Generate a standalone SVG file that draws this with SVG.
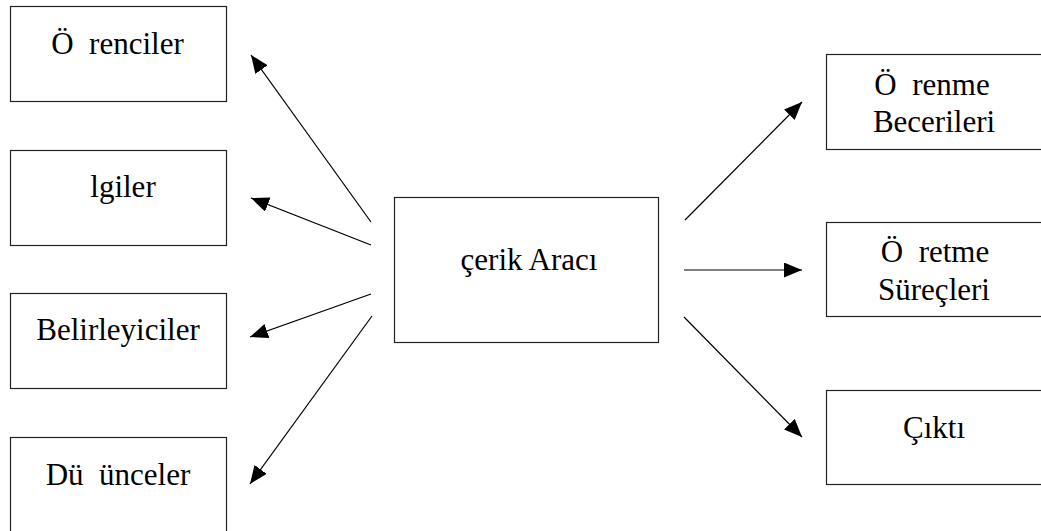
<svg xmlns="http://www.w3.org/2000/svg" width="1041" height="531" viewBox="0 0 1041 531">
  <style>
    .box { fill: #ffffff; stroke: #222222; stroke-width: 1.2; }
    .edge { stroke: #000000; stroke-width: 1.2; fill: none; marker-end: url(#head); }
  </style>
  <defs>
    <marker id="head" markerUnits="userSpaceOnUse" markerWidth="20" markerHeight="16" refX="18" refY="7.5" orient="auto">
      <path d="M0,0 L18,7.5 L0,15 z" fill="#000000"/>
    </marker>
  </defs>
  <rect width="1041" height="531" fill="#ffffff"/>

  <!-- left column -->
  <g id="ogrenciler">
    <rect class="box" x="10.5" y="6.5" width="216" height="95"/>
    <text x="117.5" y="54" text-anchor="middle" style="font-family: 'Liberation Serif', 'Times New Roman', serif !important; font-size: 31px; white-space: pre;">Ö  renciler</text>
  </g>
  <g id="ilgiler">
    <rect class="box" x="10.5" y="150.5" width="216" height="95"/>
    <text x="123" y="197" text-anchor="middle" style="font-family: 'Liberation Serif', 'Times New Roman', serif !important; font-size: 31px;">lgiler</text>
  </g>
  <g id="belirleyiciler">
    <rect class="box" x="10.5" y="293.5" width="216" height="95"/>
    <text x="118" y="340" text-anchor="middle" style="font-family: 'Liberation Serif', 'Times New Roman', serif !important; font-size: 31px;">Belirleyiciler</text>
  </g>
  <g id="dusunceler">
    <rect class="box" x="10.5" y="437.5" width="216" height="95"/>
    <text x="118" y="485" text-anchor="middle" style="font-family: 'Liberation Serif', 'Times New Roman', serif !important; font-size: 31px; white-space: pre;">Dü  ünceler</text>
  </g>

  <!-- centre -->
  <g id="icerik-araci">
    <rect class="box" x="394.5" y="197.5" width="264" height="145"/>
    <text x="529" y="270" text-anchor="middle" style="font-family: 'Liberation Serif', 'Times New Roman', serif !important; font-size: 31px;">çerik Aracı</text>
  </g>

  <!-- right column -->
  <g id="ogrenme-becerileri">
    <rect class="box" x="826.5" y="54.5" width="220" height="95"/>
    <text x="932" y="95" text-anchor="middle" style="font-family: 'Liberation Serif', 'Times New Roman', serif !important; font-size: 31px; white-space: pre;">Ö  renme</text>
    <text x="934" y="132" text-anchor="middle" style="font-family: 'Liberation Serif', 'Times New Roman', serif !important; font-size: 31px;">Becerileri</text>
  </g>
  <g id="ogretme-surecleri">
    <rect class="box" x="826.5" y="222.5" width="220" height="94"/>
    <text x="935" y="262" text-anchor="middle" style="font-family: 'Liberation Serif', 'Times New Roman', serif !important; font-size: 31px; white-space: pre;">Ö  retme</text>
    <text x="934" y="300" text-anchor="middle" style="font-family: 'Liberation Serif', 'Times New Roman', serif !important; font-size: 31px;">Süreçleri</text>
  </g>
  <g id="cikti">
    <rect class="box" x="826.5" y="390.5" width="220" height="94"/>
    <text x="934" y="438" text-anchor="middle" style="font-family: 'Liberation Serif', 'Times New Roman', serif !important; font-size: 31px;">Çıktı</text>
  </g>

  <!-- connectors -->
  <g id="connectors">
    <line class="edge" x1="371" y1="222" x2="251" y2="55"/>
    <line class="edge" x1="371" y1="245" x2="251" y2="198"/>
    <line class="edge" x1="371" y1="294" x2="250" y2="337"/>
    <line class="edge" x1="372" y1="316" x2="250" y2="484"/>
    <line class="edge" x1="685" y1="220" x2="802" y2="102"/>
    <line class="edge" x1="684" y1="270" x2="802" y2="270"/>
    <line class="edge" x1="684" y1="317" x2="802" y2="437"/>
  </g>
</svg>
